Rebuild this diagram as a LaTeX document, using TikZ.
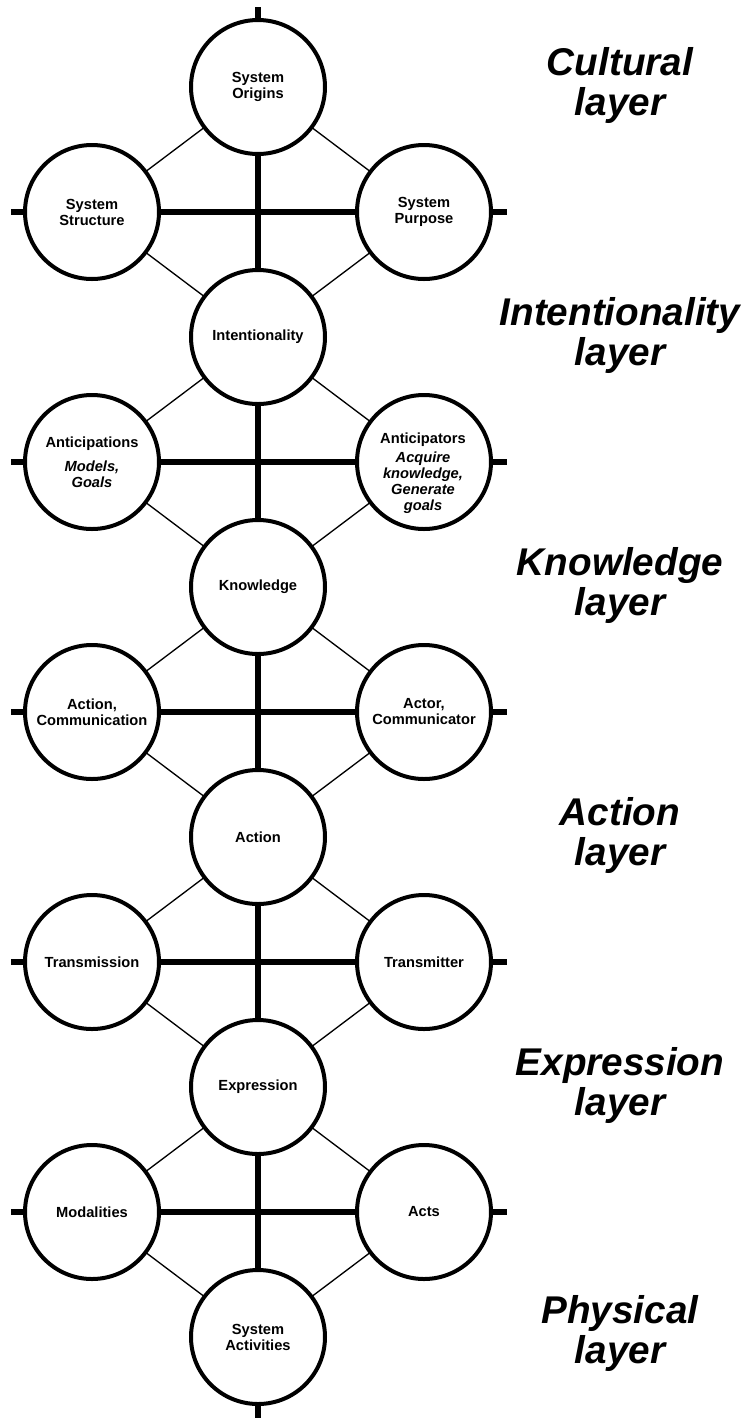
\documentclass[tikz,border=0pt]{standalone}
\usepackage{fontspec}
\setmainfont{Liberation Sans}
\usetikzlibrary{backgrounds}
\begin{document}
\begin{tikzpicture}[x=0.75pt,y=-0.75pt,
  unit/.style={circle,draw,line width=3pt,fill=white,minimum size=100.5pt,inner sep=0pt,
    align=center,font=\fontsize{11}{12}\selectfont\bfseries},
  txt/.style={align=center,inner sep=0pt,font=\fontsize{11}{12}\selectfont\bfseries},
  spine/.style={line width=4.9pt},
  link/.style={line width=1pt},
  layername/.style={align=center,inner sep=0pt,
    font=\fontsize{29}{30}\selectfont\bfseries\itshape}]
\useasboundingbox (0,0) rectangle (746,1418);

% central column
\node[unit] (origins)  at (258,87)   {System\\Origins};
\node[unit] (intent)   at (258,337)  {Intentionality};
\node[unit] (know)     at (258,587)  {Knowledge};
\node[unit] (action)   at (258,837)  {Action};
\node[unit] (expr)     at (258,1087) {Expression};
\node[unit] (activ)    at (258,1337) {System\\Activities};

% left column
\node[unit] (structure) at (92,212)  {System\\Structure};
\node[unit] (antn)      at (92,462)  {Anticipations\\[6pt]\itshape Models,\\\itshape Goals};
\node[unit] (actcomm)   at (92,712)  {Action,\\Communication};
\node[unit] (transm)    at (92,962)  {Transmission};
\node[unit] (modal)     at (92,1212) {Modalities};

% right column
\node[unit] (purpose)   at (424,212)  {System\\Purpose};
\node[unit] (antr)      at (424,462)  {};
\node[txt]  (antrtext)  at (423,473)  {Anticipators\\[2pt]\itshape Acquire\\\itshape knowledge,\\\itshape Generate\\\itshape goals};
\node[unit] (actor)     at (424,712)  {Actor,\\Communicator};
\node[unit] (transr)    at (424,962)  {Transmitter};
\node[unit] (acts)      at (424,1212) {Acts};

% free ends of the thick lines
\coordinate (top) at (258,7);
\coordinate (bot) at (258,1418);
\foreach \r/\y in {1/212,2/462,3/712,4/962,5/1212}{
  \coordinate (l\r) at (11,\y);
  \coordinate (r\r) at (507,\y);
}

\begin{scope}[on background layer]
  % vertical spine
  \draw[spine] (top) -- (origins.center) -- (intent.center) -- (know.center)
     -- (action.center) -- (expr.center) -- (activ.center) -- (bot);
  % horizontal bars
  \draw[spine] (l1) -- (structure.center) -- (purpose.center) -- (r1);
  \draw[spine] (l2) -- (antn.center) -- (antr.center) -- (r2);
  \draw[spine] (l3) -- (actcomm.center) -- (actor.center) -- (r3);
  \draw[spine] (l4) -- (transm.center) -- (transr.center) -- (r4);
  \draw[spine] (l5) -- (modal.center) -- (acts.center) -- (r5);
  % thin diamond links
  \foreach \a/\l/\r/\b in {origins/structure/purpose/intent,
                           intent/antn/antr/know,
                           know/actcomm/actor/action,
                           action/transm/transr/expr,
                           expr/modal/acts/activ}{
    \draw[link] (\a.center) -- (\l.center) -- (\b.center) -- (\r.center) -- cycle;
  }
\end{scope}

% layer names
\node[layername] (lay1) at (620,85)   {Cultural\\layer};
\node[layername] (lay2) at (620,335)  {Intentionality\\layer};
\node[layername] (lay3) at (620,585)  {Knowledge\\layer};
\node[layername] (lay4) at (620,835)  {Action\\layer};
\node[layername] (lay5) at (620,1085) {Expression\\layer};
\node[layername] (lay6) at (620,1333) {Physical\\layer};
\end{tikzpicture}
\end{document}
